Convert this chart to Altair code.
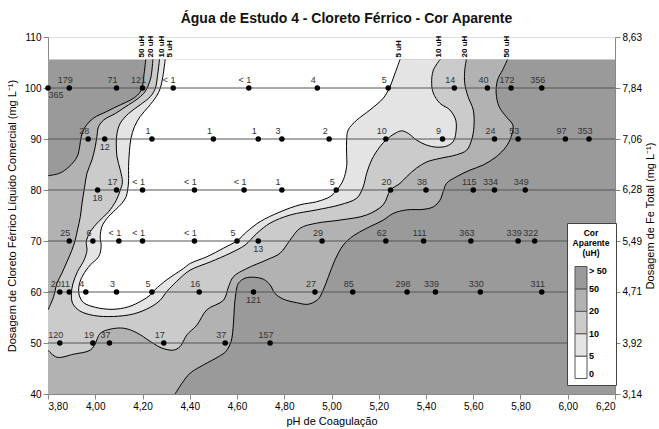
import altair as alt
import pandas as pd

# ---------------------------------------------------------------- data
DOSE_LEVELS = [50, 60, 70, 80, 90, 100]
DATA_TOP = 105.6  # upper limit of the interpolated surface

# measured points (pH, dose) and apparent colour (uH)
ph_100 = [3.80, 3.89, 4.09, 4.20, 4.33, 4.65, 4.94, 5.24, 5.52, 5.66, 5.76, 5.89]
lab_100 = ["365", "179", "71", "121", "< 1", "< 1", "4", "5", "14", "40", "172", "356"]
ph_90 = [3.97, 4.04, 4.24, 4.50, 4.69, 4.79, 4.99, 5.23, 5.47, 5.69, 5.79, 5.99, 6.09]
lab_90 = ["28", "12", "1", "1", "1", "3", "2", "10", "9", "24", "53", "97", "353"]
ph_80 = [4.01, 4.09, 4.20, 4.42, 4.63, 4.79, 5.02, 5.25, 5.40, 5.60, 5.69, 5.82]
lab_80 = ["18", "17", "< 1", "< 1", "< 1", "1", "5", "20", "38", "115", "334", "349"]
ph_70 = [3.89, 3.99, 4.10, 4.20, 4.42, 4.60, 4.69, 4.96, 5.23, 5.39, 5.59, 5.79, 5.86]
lab_70 = ["25", "6", "< 1", "< 1", "< 1", "5", "13", "29", "62", "111", "363", "339", "322"]
ph_60 = [3.85, 3.89, 3.96, 4.09, 4.24, 4.44, 4.67, 4.93, 5.09, 5.32, 5.44, 5.63, 5.89]
lab_60 = ["20", "11", "4", "3", "5", "16", "121", "27", "85", "298", "339", "330", "311"]
ph_50 = [3.85, 3.99, 4.06, 4.29, 4.55, 4.74]
lab_50 = ["120", "19", "37", "17", "37", "157"]

# labels printed under their point instead of above it
BELOW = {(4.04, 90), (4.01, 80), (4.69, 70), (4.67, 60)}
BELOW_RIGHT = {(3.80, 100)}

# iron equivalent of the dose axis
FE_TICKS = [3.14, 3.92, 4.71, 5.49, 6.28, 7.06, 7.84, 8.63]

# contour lines (pH, dose)
c50_left = [(4.214, 105.6), (4.207, 102.9), (4.197, 99.9), (4.179, 98.6), (4.148, 97.6),
            (4.106, 96.7), (4.049, 95.4), (3.993, 94.1), (3.958, 92.4), (3.941, 90.5),
            (3.934, 88.5), (3.923, 86.5), (3.89, 84.6), (3.85, 83.3), (3.80, 82.8)]
c50_right = [(4.338, 40.0), (4.367, 42.1), (4.402, 44.1), (4.458, 45.7), (4.521, 47.3),
             (4.552, 48.3), (4.575, 50.3), (4.585, 53.9), (4.589, 57.1), (4.595, 59.7),
             (4.606, 61.7), (4.634, 62.7), (4.669, 62.9), (4.712, 62.5), (4.740, 61.4),
             (4.761, 59.7), (4.796, 58.6), (4.853, 57.9), (4.902, 57.6), (4.944, 58.6),
             (4.965, 60.4), (4.987, 63.0), (5.015, 66.3), (5.050, 69.2), (5.092, 71.0),
             (5.149, 72.5), (5.219, 74.1), (5.261, 75.4), (5.318, 76.1), (5.388, 76.2),
             (5.431, 76.7), (5.459, 78.0), (5.473, 79.7), (5.487, 81.3), (5.529, 82.6),
             (5.586, 83.9), (5.642, 84.9), (5.697, 86.5), (5.739, 88.5), (5.761, 90.5),
             (5.768, 92.7), (5.739, 94.4), (5.710, 96.3), (5.697, 99.0), (5.703, 101.6),
             (5.724, 103.5), (5.745, 105.6)]
c20_left = [(4.244, 105.6), (4.236, 102.2), (4.225, 100.6), (4.211, 99.3), (4.183, 98.0),
            (4.141, 96.7), (4.085, 95.0), (4.035, 93.7), (4.014, 92.4), (4.007, 90.5),
            (4.000, 88.5), (3.986, 85.9), (3.965, 83.3), (3.955, 80.6), (3.944, 77.4),
            (3.937, 74.8), (3.925, 72.2), (3.915, 70.1), (3.901, 68.2), (3.880, 65.9),
            (3.859, 63.7), (3.838, 61.7), (3.824, 59.1), (3.810, 57.5), (3.800, 56.5)]
c20_right = [(3.800, 48.6), (3.838, 47.2), (3.908, 47.8), (3.979, 48.6), (4.000, 49.9),
             (4.021, 51.9), (4.063, 52.7), (4.120, 52.9), (4.176, 52.0), (4.233, 50.3),
             (4.282, 49.0), (4.331, 48.6), (4.359, 49.3), (4.388, 51.6), (4.430, 53.5),
             (4.472, 56.5), (4.543, 58.4), (4.564, 61.0), (4.585, 63.0), (4.641, 64.6),
             (4.726, 66.3), (4.782, 67.6), (4.825, 70.2), (4.867, 72.5), (4.937, 73.5),
             (5.036, 74.1), (5.149, 75.1), (5.219, 77.1), (5.250, 80.0), (5.290, 81.3),
             (5.318, 82.6), (5.360, 84.3), (5.403, 85.5), (5.459, 86.2), (5.529, 86.9),
             (5.572, 87.8), (5.593, 89.8), (5.603, 92.4), (5.600, 95.7), (5.578, 98.3),
             (5.564, 100.9), (5.564, 103.5), (5.571, 105.6)]
c10 = [(4.272, 105.6), (4.263, 102.2), (4.254, 99.9), (4.233, 98.3), (4.190, 96.7),
       (4.141, 95.0), (4.106, 93.1), (4.092, 91.1), (4.089, 89.2), (4.092, 86.5),
       (4.106, 83.9), (4.115, 81.5), (4.106, 80.0), (4.089, 78.0), (4.056, 75.7),
       (4.014, 73.8), (3.979, 71.8), (3.962, 69.9), (3.965, 68.2), (3.953, 66.3),
       (3.925, 64.0), (3.906, 61.7), (3.899, 59.7), (3.904, 57.8), (3.934, 56.3),
       (3.993, 55.4), (4.077, 55.2), (4.162, 55.7), (4.233, 57.0), (4.275, 58.4),
       (4.303, 60.1), (4.359, 62.7), (4.402, 64.3), (4.487, 65.9), (4.571, 67.6),
       (4.634, 69.2), (4.684, 71.5), (4.740, 73.5), (4.825, 75.1), (4.937, 76.1),
       (5.036, 77.1), (5.107, 78.4), (5.134, 80.6), (5.149, 83.3), (5.170, 85.9),
       (5.205, 88.5), (5.233, 89.9), (5.269, 91.1), (5.297, 91.6), (5.325, 91.1),
       (5.360, 89.8), (5.403, 88.8), (5.445, 88.4), (5.487, 88.6), (5.515, 89.5),
       (5.526, 91.1), (5.526, 93.7), (5.501, 95.7), (5.459, 97.0), (5.431, 99.0),
       (5.424, 100.9), (5.431, 103.5), (5.460, 105.6)]
c5 = [(4.296, 105.6), (4.286, 102.2), (4.275, 99.9), (4.258, 98.3), (4.225, 96.3),
      (4.190, 94.4), (4.166, 92.4), (4.151, 90.1), (4.145, 87.8), (4.141, 84.6),
      (4.141, 81.6), (4.137, 80.0), (4.131, 78.7), (4.113, 77.4), (4.085, 76.1),
      (4.049, 74.4), (4.028, 72.8), (4.021, 70.8), (4.025, 68.9), (4.014, 66.9),
      (3.979, 65.3), (3.948, 63.3), (3.932, 61.4), (3.932, 59.4), (3.951, 57.9),
      (4.000, 57.0), (4.071, 56.6), (4.141, 57.1), (4.197, 58.3), (4.233, 59.4),
      (4.254, 60.5), (4.303, 62.4), (4.373, 64.6), (4.402, 65.6), (4.472, 66.9),
      (4.543, 68.6), (4.602, 70.1), (4.641, 71.8), (4.698, 73.8), (4.782, 75.7),
      (4.867, 77.1), (4.937, 77.7), (4.994, 78.7), (5.023, 80.0), (5.050, 82.0),
      (5.064, 84.6), (5.064, 87.2), (5.064, 89.8), (5.071, 91.8), (5.107, 93.7),
      (5.163, 95.7), (5.219, 98.0), (5.244, 99.9), (5.269, 102.9), (5.290, 105.6)]

# colour classes: class index -> boundary labels (uH)
CLASS_BOUNDS = ["0", "5", "10", "20", "50", "> 50"]
SHADES = ["#ffffff", "#e4e4e4", "#cbcbcb", "#b2b2b2", "#9a9a9a"]

X_MIN, X_MAX = 3.8, 6.2
Y_MIN, Y_MAX = 40, 110

# ---------------------------------------------------------------- tables
def rows(points, name, cls=None):
    return [{"poly": name, "i": k, "ph": p, "dose": d, "cls": cls}
            for k, (p, d) in enumerate(points)]

corner_bl = [(X_MIN, Y_MIN)]
polys = {
    "gt50": rows([(X_MIN, Y_MIN), (X_MAX, Y_MIN), (X_MAX, DATA_TOP), (X_MIN, DATA_TOP)], "gt50", 4.5),
    "le50": rows(c50_left + corner_bl + c50_right, "le50", 3.5),
    "le20": rows(c20_left + c20_right, "le20", 2.5),
    "le10": rows(c10, "le10", 1.5),
    "le5": rows(c5, "le5", 0.5),
}
lines_df = pd.DataFrame(
    rows(c50_left, "a") + rows(c50_right, "b") + rows(c20_left, "c")
    + rows(c20_right, "d") + rows(c10, "e") + rows(c5, "f"))

pts = []
for dose, phs, labs in [(100, ph_100, lab_100), (90, ph_90, lab_90), (80, ph_80, lab_80),
                        (70, ph_70, lab_70), (60, ph_60, lab_60), (50, ph_50, lab_50)]:
    for p, t in zip(phs, labs):
        side = "br" if (p, dose) in BELOW_RIGHT else ("b" if (p, dose) in BELOW else "a")
        pts.append({"ph": p, "dose": dose, "label": t, "side": side})
pts_df = pd.DataFrame(pts)

top_left = [("50 uH", c50_left[0][0]), ("20 uH", c20_left[0][0]),
            ("10 uH", c10[0][0]), ("5 uH", c5[0][0])]
top_right = [("5 uH", c5[-1][0]), ("10 uH", c10[-1][0]),
             ("20 uH", c20_right[-1][0]), ("50 uH", c50_right[-1][0])]

# ---------------------------------------------------------------- encodings
FONT = "Liberation Sans"
NUM_LABEL = "replace(format(datum.value, '.2f'), '.', ',')"
X = alt.X("ph:Q", scale=alt.Scale(domain=[X_MIN, X_MAX], nice=False, zero=False),
          axis=alt.Axis(values=[3.8, 4.0, 4.2, 4.4, 4.6, 4.8, 5.0, 5.2, 5.4, 5.6, 5.8, 6.0, 6.2],
                        labelExpr=NUM_LABEL, title="pH de Coagulação", titlePadding=4,
                        titleFontWeight="normal", grid=False))
Y = alt.Y("dose:Q", scale=alt.Scale(domain=[Y_MIN, Y_MAX], nice=False, zero=False),
          axis=alt.Axis(values=list(range(40, 111, 10)), format="d",
                        title="Dosagem de Cloreto Férrico Líquido Comercial (mg L⁻¹)",
                        titlePadding=7, titleFontWeight="normal", grid=False))

bounds_js = "[" + ",".join("'%s'" % b for b in CLASS_BOUNDS) + "]"
FILL = alt.Fill(
    "cls:Q",
    scale=alt.Scale(type="quantize", domain=[0, len(SHADES)], range=SHADES, nice=False, zero=False),
    legend=alt.Legend(
        type="gradient", values=list(range(len(CLASS_BOUNDS))),
        title=["Cor", "Aparente", "(uH)"], orient="none", legendX=519, legendY=186,
        direction="vertical", gradientLength=112, gradientThickness=12,
        fillColor="white", strokeColor="#444", padding=6,
        titleFontSize=8.5, titleFontWeight="bold", titleFont=FONT, titleAlign="center",
        titleAnchor="middle", titleLineHeight=10, titlePadding=9, titleColor="black",
        labelFontSize=9, labelFontWeight="bold", labelFont=FONT, labelColor="black",
        labelOverlap=False, gradientStrokeColor="#555", gradientStrokeWidth=1,
        labelExpr="isFinite(datum.value) ? " + bounds_js + "[round(datum.value)] : "
                  "(datum.value < 0 ? '0' : '> 50')",
    ),
)

layers = []
for name in ["gt50", "le50", "le20", "le10", "le5"]:
    layers.append(
        alt.Chart(pd.DataFrame(polys[name])).mark_line(
            strokeWidth=0, strokeOpacity=0, clip=True, interpolate="linear"
        ).encode(x=X, y=Y, order=alt.Order("i:Q"), fill=FILL)
    )

contours = alt.Chart(lines_df).mark_line(
    color="black", strokeWidth=1, clip=True, interpolate="catmull-rom"
).encode(x=X, y=Y, detail="poly:N", order=alt.Order("i:Q"))

rules = alt.Chart(pd.DataFrame({"dose": DOSE_LEVELS})).mark_rule(
    color="#555", strokeWidth=1
).encode(y=Y)

dots = alt.Chart(pts_df).mark_circle(size=30, color="black", opacity=1).encode(x=X, y=Y)

txt_style = dict(fontSize=9, font=FONT, color="#333")
lab_above = alt.Chart(pts_df).transform_filter("datum.side == 'a'").mark_text(
    dx=-4, dy=-8, baseline="middle", **txt_style).encode(x=X, y=Y, text="label:N")
lab_below = alt.Chart(pts_df).transform_filter("datum.side == 'b'").mark_text(
    dx=0, dy=8, baseline="middle", **txt_style).encode(x=X, y=Y, text="label:N")
lab_br = alt.Chart(pts_df).transform_filter("datum.side == 'br'").mark_text(
    dx=8, dy=7, baseline="middle", **txt_style).encode(x=X, y=Y, text="label:N")

# vertical contour names above the surface; the left group is fanned out a little
top_style = dict(angle=270, align="left", baseline="middle", dx=2, fontSize=8,
                 fontWeight="bold", font=FONT, color="black")
tops = []
for (txt, p), shift in zip(top_left, [-4, -2, 2, 5]):
    tops.append(alt.Chart(pd.DataFrame({"ph": [p], "dose": [DATA_TOP], "label": [txt]}))
                .mark_text(dy=shift, **top_style).encode(x=X, y=Y, text="label:N"))
tops.append(alt.Chart(pd.DataFrame({"ph": [p for _, p in top_right],
                                    "dose": [DATA_TOP] * len(top_right),
                                    "label": [t for t, _ in top_right]}))
            .mark_text(dy=-1, **top_style).encode(x=X, y=Y, text="label:N"))

main = alt.layer(*layers, contours, rules, dots, lab_above, lab_below, lab_br, *tops)

fe_axis = alt.Chart(pd.DataFrame({"fe": FE_TICKS})).mark_point(opacity=0).encode(
    y=alt.Y("fe:Q", scale=alt.Scale(domain=[FE_TICKS[0], FE_TICKS[-1]], nice=False, zero=False),
            axis=alt.Axis(values=FE_TICKS, orient="right", labelExpr=NUM_LABEL,
                          title="Dosagem de Fe Total (mg L⁻¹)", titleAngle=270,
                          titleBaseline="top", titlePadding=3, titleFontWeight="normal",
                          grid=False))
)

chart = alt.layer(main, fe_axis).resolve_scale(y="independent").properties(
    width=567, height=357,
    autosize=alt.AutoSizeParams(type="none"),
    padding={"left": 48, "top": 37, "right": 44, "bottom": 35},
    title=alt.TitleParams("Água de Estudo 4 - Cloreto Férrico - Cor Aparente",
                          fontSize=14, fontWeight="bold", font=FONT, anchor="middle",
                          offset=6, dx=15, color="#111"),
).configure_view(stroke="#555", strokeWidth=1).configure_axis(
    labelFont=FONT, labelFontSize=10, labelFontWeight="bold", labelColor="black",
    titleFont=FONT, titleFontSize=12, titleFontWeight="normal", titleColor="#222",
    domainColor="black", tickColor="black", tickSize=5, labelPadding=2,
).configure_legend(
    gradientLength=112, gradientThickness=12,
).configure(background="white")

chart.save("out.html", embed_options={"renderer": "svg", "actions": False})
